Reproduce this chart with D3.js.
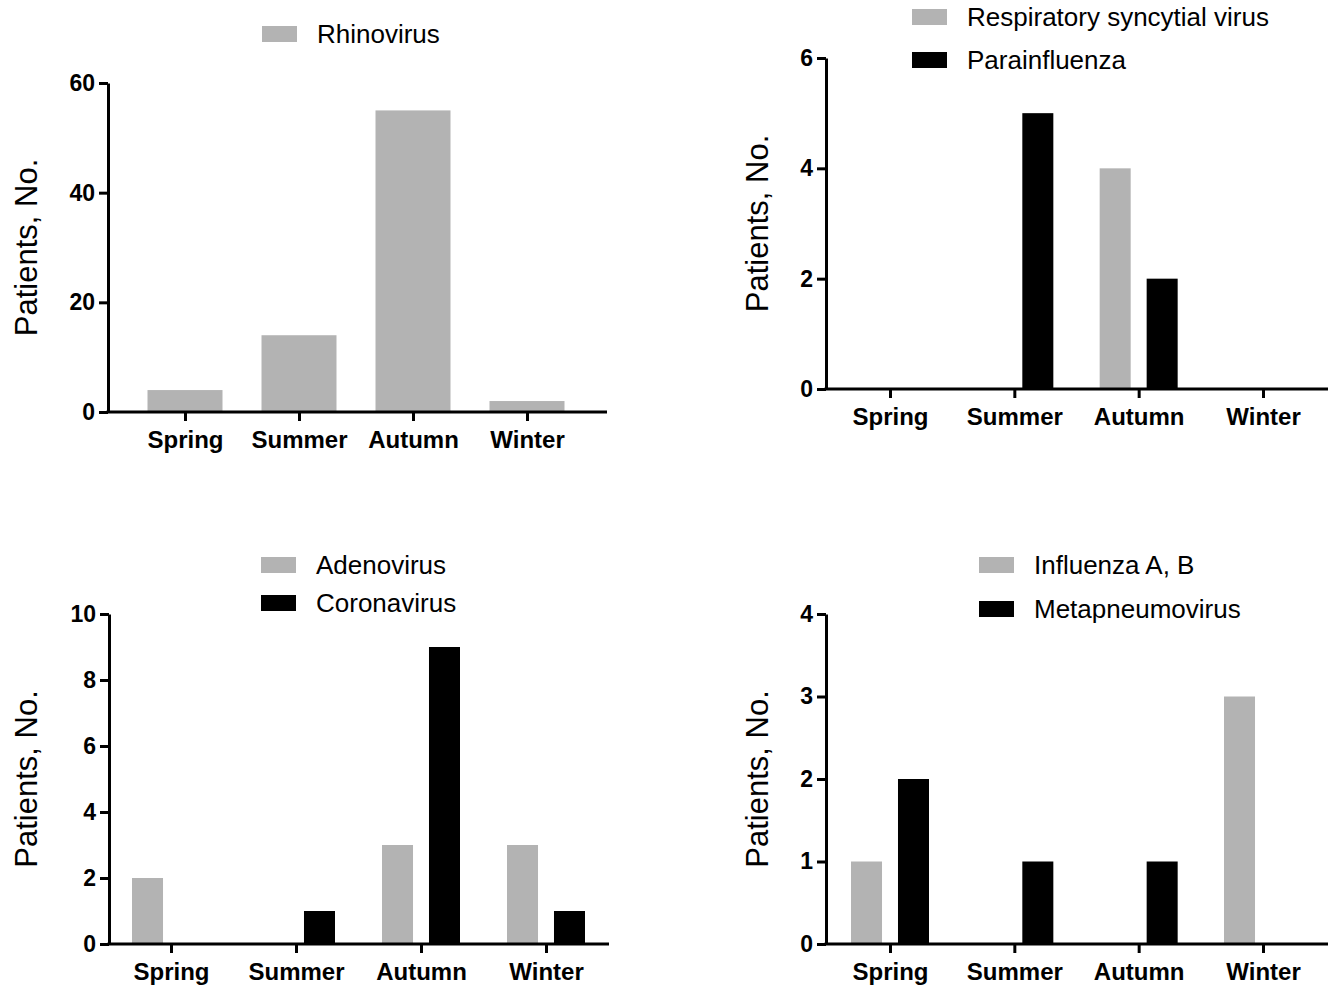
<!DOCTYPE html>
<html>
<head>
<meta charset="utf-8">
<script src="https://cdn.jsdelivr.net/npm/d3@7"></script>
<style>
    body { margin: 0; background: #fff; }
    svg { display: block; font-family: "Liberation Sans", Arial, Helvetica, sans-serif; }
</style>
</head>
<body>
<svg id="chart" width="1330" height="987"></svg>
<script>

// data
const seasons = ["Spring", "Summer", "Autumn", "Winter"];

const rhinovirus = [4, 14, 55, 2];
const rsv = [0, 0, 4, 0];
const parainfluenza = [0, 5, 2, 0];
const adenovirus = [2, 0, 3, 3];
const coronavirus = [0, 1, 9, 1];
const influenza = [1, 0, 0, 3];
const metapneumovirus = [2, 1, 1, 0];

const ticks1 = [0, 20, 40, 60];
const ticks2 = [0, 2, 4, 6];
const ticks3 = [0, 2, 4, 6, 8, 10];
const ticks4 = [0, 1, 2, 3, 4];

const GREY = "#b3b3b3";
const BLACK = "#000000";

// layout of the four panels
const panels = [
    {
        series: [{ name: "Rhinovirus", values: rhinovirus, color: GREY }],
        yTicks: ticks1,
        axisX: 108, axisEnd: 607, top: 83, bottom: 412,
        firstX: 185, lastX: 527, barWidth: 75,
        titleX: 37,
        legendX: 262, legendY: [34]
    },
    {
        series: [
            { name: "Respiratory syncytial virus", values: rsv, color: GREY },
            { name: "Parainfluenza", values: parainfluenza, color: BLACK }
        ],
        yTicks: ticks2,
        axisX: 826, axisEnd: 1328, top: 58, bottom: 389,
        firstX: 890, lastX: 1263, barWidth: 31,
        titleX: 768,
        legendX: 912, legendY: [17, 60]
    },
    {
        series: [
            { name: "Adenovirus", values: adenovirus, color: GREY },
            { name: "Coronavirus", values: coronavirus, color: BLACK }
        ],
        yTicks: ticks3,
        axisX: 109, axisEnd: 609, top: 614, bottom: 944,
        firstX: 171, lastX: 546, barWidth: 31,
        titleX: 37,
        legendX: 261, legendY: [565, 603]
    },
    {
        series: [
            { name: "Influenza A, B", values: influenza, color: GREY },
            { name: "Metapneumovirus", values: metapneumovirus, color: BLACK }
        ],
        yTicks: ticks4,
        axisX: 826, axisEnd: 1328, top: 614, bottom: 944,
        firstX: 890, lastX: 1263, barWidth: 31,
        titleX: 768,
        legendX: 979, legendY: [565, 609]
    }
];

const svg = d3.select("#chart");

function drawPanel(p) {
    const g = svg.append("g");

    const x = d3.scalePoint().domain(seasons).range([p.firstX, p.lastX]);
    const y = d3.scaleLinear()
        .domain([0, d3.max(p.yTicks)])
        .range([p.bottom, p.top]);

    // offset of each series inside a season group
    const inner = d3.scaleBand()
        .domain(d3.range(p.series.length))
        .range(p.series.length > 1 ? [-39, 39] : [-p.barWidth / 2, p.barWidth / 2])
        .paddingInner(p.series.length > 1 ? 0.34 : 0);

    p.series.forEach((s, i) => {
        g.append("g")
            .selectAll("rect")
            .data(s.values.map((v, j) => ({ season: seasons[j], value: v })))
            .enter().append("rect")
            .filter(d => d.value > 0)
            .attr("x", d => x(d.season) + inner(i))
            .attr("width", inner.bandwidth())
            .attr("y", d => y(d.value))
            .attr("height", d => y(0) - y(d.value))
            .attr("fill", s.color);
    });

    // y axis
    const yAxis = g.append("g")
        .attr("transform", "translate(" + p.axisX + ",0)")
        .call(d3.axisLeft(y)
            .tickValues(p.yTicks)
            .tickFormat(d3.format("d"))
            .tickSize(9)
            .tickSizeOuter(0)
            .tickPadding(4));

    yAxis.select(".domain").attr("stroke-width", 3);
    yAxis.selectAll(".tick line").attr("stroke-width", 3);
    yAxis.selectAll("text")
        .attr("font-size", 23)
        .attr("font-weight", "bold")
        .attr("fill", "#000")
        .attr("font-family", "'Liberation Sans', Arial, sans-serif");

    // x axis
    const xAxis = g.append("g")
        .attr("transform", "translate(0," + p.bottom + ")")
        .call(d3.axisBottom(x).tickSize(9).tickPadding(10));

    xAxis.select(".domain").remove();
    xAxis.append("line")
        .attr("x1", p.axisX - 1.5)
        .attr("x2", p.axisEnd)
        .attr("stroke", "#000")
        .attr("stroke-width", 3);
    xAxis.selectAll(".tick line").attr("stroke-width", 3);
    xAxis.selectAll("text")
        .attr("font-size", 24)
        .attr("font-weight", "bold")
        .attr("fill", "#000")
        .attr("font-family", "'Liberation Sans', Arial, sans-serif");

    // y axis title
    g.append("text")
        .attr("transform", "translate(" + p.titleX + "," + (p.top + p.bottom) / 2 + ") rotate(-90)")
        .attr("text-anchor", "middle")
        .attr("font-size", 31)
        .attr("fill", "#000")
        .text("Patients, No.");

    // legend
    const legend = g.append("g")
        .selectAll("g")
        .data(p.series)
        .enter().append("g")
        .attr("transform", (d, i) => "translate(" + p.legendX + "," + p.legendY[i] + ")");

    legend.append("rect")
        .attr("x", 0)
        .attr("y", -8)
        .attr("width", 35)
        .attr("height", 16)
        .attr("fill", d => d.color);

    legend.append("text")
        .attr("x", 55)
        .attr("y", 9)
        .attr("font-size", 26)
        .attr("fill", "#000")
        .text(d => d.name);
}

panels.forEach(drawPanel);

</script>
</body>
</html>
